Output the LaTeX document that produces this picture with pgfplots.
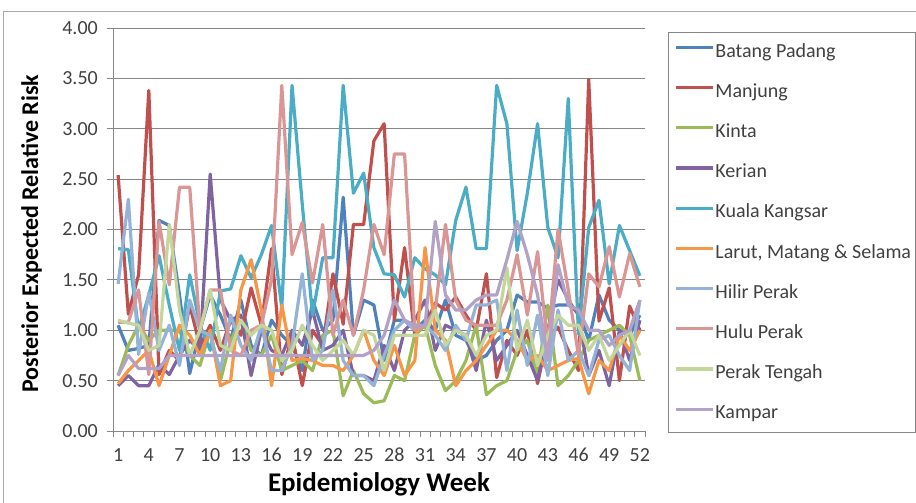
\documentclass[border=0pt]{standalone}
\usepackage{fontspec}
\setmainfont{Carlito}
\usepackage{pgfplots}
\usepackage{pgfplotstable}
\pgfplotsset{compat=1.18}
\newcommand\fs[1]{\fontsize{#1}{#1}\selectfont}
\definecolor{cbp}{HTML}{4F81BD}
\definecolor{cmj}{HTML}{C0504D}
\definecolor{cki}{HTML}{9BBB59}
\definecolor{cke}{HTML}{8064A2}
\definecolor{ckk}{HTML}{4BACC6}
\definecolor{clm}{HTML}{F79646}
\definecolor{chi}{HTML}{95B3D7}
\definecolor{chu}{HTML}{D99694}
\definecolor{cpt}{HTML}{C3D69B}
\definecolor{cka}{HTML}{B3A2C7}
\definecolor{cgrid}{HTML}{868686}
\definecolor{ctxt}{HTML}{404040}

% weekly posterior expected relative risk
\pgfplotstableread{
w  bp   mj   ki   ke   kk   lm   hi   hu   pt   ka
1  1.05 2.54 0.55 0.45 1.81 0.47 1.46 1.08 1.10 0.55
2  0.80 1.16 0.85 0.55 1.80 0.60 2.30 1.08 1.07 0.75
3  0.82 1.55 1.05 0.45 1.00 0.70 0.76 1.40 1.05 0.62
4  0.85 3.38 0.90 0.45 1.35 0.80 1.37 0.56 0.80 0.62
5  2.09 0.56 1.00 0.66 1.74 0.45 0.80 2.08 0.85 0.62
6  2.04 0.80 1.00 0.56 1.25 0.75 1.05 1.45 2.05 0.75
7  1.35 0.70 1.00 0.75 0.80 1.05 0.65 2.42 1.20 0.75
8  0.57 1.25 0.75 0.90 1.55 0.95 1.30 2.42 0.75 0.75
9  1.00 0.84 0.65 0.80 1.05 0.75 1.00 1.00 1.00 0.75
10 1.35 1.05 1.00 2.55 0.80 1.00 0.95 1.40 1.40 0.75
11 1.15 0.80 0.50 1.30 1.39 0.45 0.60 1.40 0.85 0.75
12 0.90 1.10 0.90 1.10 1.41 0.50 1.15 0.80 0.80 0.75
13 1.30 0.95 1.10 1.15 1.74 1.40 0.85 0.75 1.10 0.75
14 0.85 1.42 0.80 0.55 1.52 1.70 0.70 1.00 0.95 0.75
15 0.75 1.05 0.75 1.00 1.75 1.20 1.05 1.05 1.05 0.75
16 1.10 1.81 0.95 0.80 2.04 0.45 0.60 1.50 1.00 0.75
17 0.95 0.56 0.60 0.75 1.22 1.25 0.60 3.43 0.70 0.75
18 0.85 0.95 0.65 1.00 3.43 0.70 0.85 1.75 0.80 0.75
19 0.60 0.45 0.70 0.85 2.25 0.72 1.56 2.07 1.05 0.75
20 1.30 1.00 0.60 1.20 1.15 0.70 0.70 1.47 0.85 0.75
21 1.00 0.85 0.95 0.80 1.72 0.65 0.80 2.05 0.70 0.75
22 1.10 1.56 1.00 0.85 1.72 0.65 1.40 0.95 0.80 0.75
23 2.32 1.06 0.35 1.00 3.43 0.60 0.70 1.30 0.90 0.75
24 0.95 2.05 0.60 0.55 2.36 0.75 0.55 0.95 0.75 0.75
25 1.30 2.05 0.37 0.55 2.56 1.00 0.55 1.40 1.00 0.75
26 1.25 2.88 0.28 0.50 1.82 0.70 0.45 2.05 0.95 0.80
27 0.70 3.05 0.30 0.85 1.56 0.55 0.75 1.75 0.60 0.95
28 1.10 1.10 0.55 0.60 1.55 0.85 1.00 2.75 0.95 1.30
29 1.10 1.82 0.50 1.00 1.33 0.55 1.10 2.75 0.95 1.10
30 1.00 0.95 0.95 1.10 1.72 0.70 1.00 1.00 0.95 1.05
31 1.10 1.05 1.05 1.30 1.61 1.82 1.05 1.05 0.95 1.05
32 1.00 1.27 0.65 0.80 1.55 1.00 0.95 1.20 1.20 2.08
33 1.30 1.20 0.40 1.05 1.45 0.90 0.80 2.05 0.85 1.35
34 0.95 1.33 0.50 1.00 2.09 0.45 1.05 1.30 1.00 1.20
35 0.90 1.15 0.70 0.95 2.42 0.60 0.90 1.10 0.95 1.20
36 0.70 1.00 1.05 0.60 1.81 0.70 1.25 1.05 0.75 1.30
37 0.75 1.56 0.36 1.10 1.81 0.85 1.25 1.05 0.95 1.35
38 0.90 0.53 0.45 0.70 3.43 1.00 1.30 1.05 1.00 1.35
39 1.00 0.90 0.50 0.85 3.05 1.00 0.60 1.30 1.62 1.70
40 1.35 0.75 0.80 1.00 1.79 0.90 1.20 1.75 0.80 2.08
41 1.28 1.00 0.90 0.75 2.36 0.70 0.65 1.15 1.10 1.75
42 1.28 0.47 0.55 0.50 3.05 0.75 1.15 1.78 0.65 1.35
43 1.22 0.95 1.25 1.00 2.02 0.60 0.55 0.85 0.95 0.70
44 1.25 1.03 0.45 1.50 1.72 0.65 1.20 2.00 1.15 1.65
45 1.25 0.80 0.55 1.30 3.30 0.70 0.70 1.40 1.05 1.25
46 1.18 0.60 0.70 1.15 0.96 0.72 0.80 0.75 1.05 1.20
47 0.90 3.49 0.90 0.55 2.02 0.37 0.55 1.56 0.80 1.00
48 1.35 1.09 0.95 0.80 2.29 0.70 0.90 1.43 0.95 1.00
49 1.10 1.42 1.00 0.45 1.46 0.60 0.95 1.83 0.70 0.85
50 1.00 0.50 1.05 1.00 2.04 0.95 0.75 1.33 0.85 0.95
51 0.95 1.24 0.95 0.70 1.79 0.80 0.60 1.76 1.00 1.00
52 1.15 1.00 0.50 1.10 1.54 1.00 1.30 1.43 0.75 1.30
}\risk

\begin{document}
\begin{tikzpicture}
\useasboundingbox (0,0) rectangle (916bp,503bp);
\draw[cgrid!70, line width=0.8bp] (3bp,0bp) -- (3bp,492bp) -- (916bp,492bp);
\draw[cgrid, line width=0.8bp] (668bp,71bp) rectangle (915bp,471bp);
\begin{axis}[
  at={(113bp,72bp)}, anchor=south west,
  width=532bp, height=403bp, scale only axis,
  xmin=0.5, xmax=52.5, ymin=0, ymax=4,
  axis x line*=bottom, axis y line*=left,
  axis line style={draw=cgrid, line width=0.8bp},
  xtick={1,4,...,52},
  minor xtick={0.5,1.5,...,52.5},
  ytick={0,0.5,...,4},
  ymajorgrids,
  major grid style={draw=cgrid, line width=0.8bp},
  tick align=outside,
  major tick length=6bp, minor tick length=6bp,
  xtick style={draw=none},
  minor x tick style={draw=cgrid, line width=0.8bp},
  ytick style={draw=cgrid, line width=0.8bp},
  /pgf/number format/assume math mode=true,
  ticklabel style={font=\fs{20bp}, text=ctxt, inner sep=0pt},
  x tick label style={yshift=-11bp},
  y tick label style={xshift=-9bp, /pgf/number format/.cd, fixed, fixed zerofill, precision=2},
  xlabel={\bfseries Epidemiology Week},
  ylabel={\bfseries Posterior Expected Relative Risk},
  every axis x label/.style={at={(rel axis cs:0.5,-0.133)}, anchor=center, font=\fs{27bp}},
  every axis y label/.style={at={(rel axis cs:-0.153,0.49)}, anchor=center, rotate=90, font=\fs{24bp}},
  every axis plot/.append style={line width=3.2bp, no markers, line join=round},
  legend cell align=left,
  legend image code/.code={\draw[#1, line width=3.2bp] (0bp,5bp) -- (37bp,5bp);},
  legend style={at={(rel axis cs:1.0489,0.968)}, anchor=north west, draw=none, fill=none,
    font=\fs{20bp}, text=ctxt, row sep=21.7bp, column sep=1bp,
    nodes={inner sep=0pt, text height=14bp, text depth=4.5bp}},
]
\addplot[cbp] table[x=w, y=bp] {\risk};
\addlegendentry{Batang Padang}
\addplot[cmj] table[x=w, y=mj] {\risk};
\addlegendentry{Manjung}
\addplot[cki] table[x=w, y=ki] {\risk};
\addlegendentry{Kinta}
\addplot[cke] table[x=w, y=ke] {\risk};
\addlegendentry{Kerian}
\addplot[ckk] table[x=w, y=kk] {\risk};
\addlegendentry{Kuala Kangsar}
\addplot[clm] table[x=w, y=lm] {\risk};
\addlegendentry{Larut, Matang \& Selama}
\addplot[chi] table[x=w, y=hi] {\risk};
\addlegendentry{Hilir Perak}
\addplot[chu] table[x=w, y=hu] {\risk};
\addlegendentry{Hulu Perak}
\addplot[cpt] table[x=w, y=pt] {\risk};
\addlegendentry{Perak Tengah}
\addplot[cka] table[x=w, y=ka] {\risk};
\addlegendentry{Kampar}
\end{axis}
\end{tikzpicture}
\end{document}
